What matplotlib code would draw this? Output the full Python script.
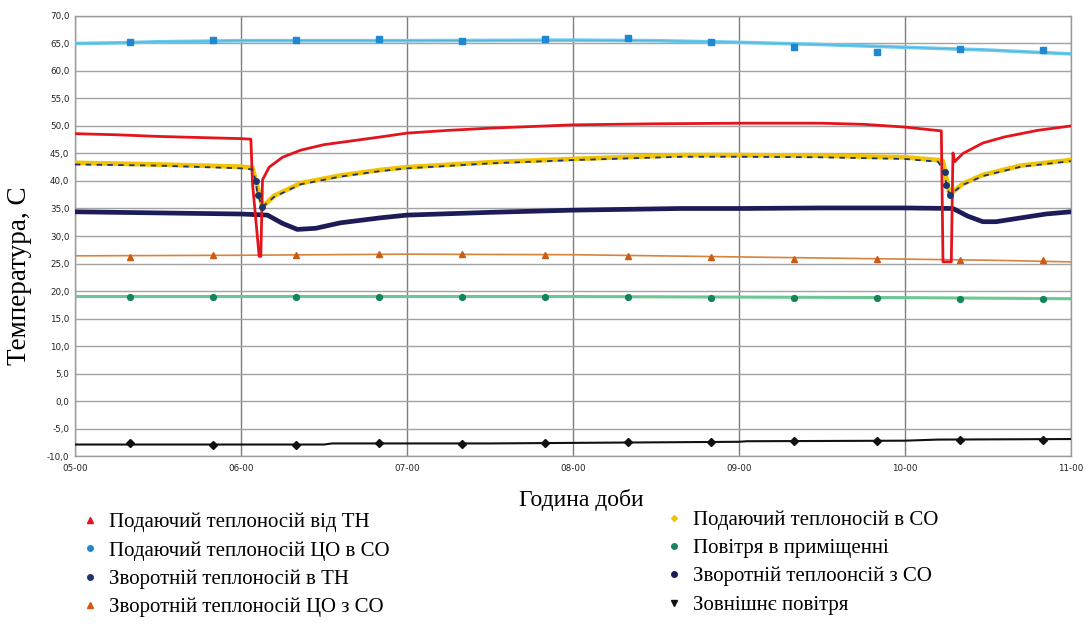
import matplotlib
matplotlib.use("Agg")
import matplotlib.pyplot as plt
from matplotlib.lines import Line2D

# ---------------- data (hours as decimal, temperatures in C) ----------------
hour_ticks = [5, 6, 7, 8, 9, 10, 11]
hour_labels = ["05-00", "06-00", "07-00", "08-00", "09-00", "10-00", "11-00"]
y_ticks = [-10, -5, 0, 5, 10, 15, 20, 25, 30, 35, 40, 45, 50, 55, 60, 65, 70]

marker_t = [5.33, 5.83, 6.33, 6.83, 7.33, 7.83, 8.33, 8.83, 9.33, 9.83, 10.33, 10.83]

# Подаючий теплоносій від ТН (red)
red_t = [5.00, 5.25, 5.50, 5.75, 6.00, 6.06, 6.07, 6.11, 6.12, 6.13, 6.17, 6.25, 6.36,
         6.50, 6.84, 7.00, 7.25, 7.50, 8.00, 8.50, 9.00, 9.50, 9.75, 10.00, 10.22,
         10.23, 10.28, 10.29, 10.30, 10.35, 10.47, 10.60, 10.80, 11.00]
red_v = [48.6, 48.4, 48.1, 47.9, 47.7, 47.6, 39.5, 26.3, 26.3, 40.2, 42.5, 44.3, 45.6,
         46.6, 48.0, 48.7, 49.2, 49.6, 50.2, 50.4, 50.5, 50.5, 50.3, 49.8, 49.1,
         25.3, 25.3, 45.1, 43.5, 45.0, 46.9, 48.0, 49.2, 50.0]

# Подаючий теплоносій ЦО в СО (light blue)
lblue_t = [5.00, 5.25, 5.50, 6.00, 7.00, 8.00, 8.50, 9.00, 9.50, 10.00, 10.50, 11.00]
lblue_v = [65.0, 65.1, 65.3, 65.5, 65.5, 65.6, 65.5, 65.2, 64.8, 64.3, 63.8, 63.1]
lblue_m = [65.2, 65.7, 65.7, 65.8, 65.5, 65.8, 66.0, 65.3, 64.4, 63.5, 64.0, 63.8]

# Подаючий теплоносій в СО (yellow)
yel_t = [5.00, 5.50, 6.00, 6.07, 6.13, 6.20, 6.36, 6.60, 6.84, 7.00, 7.50, 8.00, 8.65,
         9.00, 9.50, 10.00, 10.20, 10.23, 10.27, 10.35, 10.47, 10.70, 11.00]
yel_v = [43.3, 43.0, 42.6, 42.4, 35.3, 37.3, 39.6, 41.0, 42.0, 42.5, 43.4, 44.0, 44.7,
         44.7, 44.6, 44.3, 43.8, 43.6, 37.5, 39.5, 41.1, 42.8, 43.8]

# Зворотній теплоносій в ТН (dark blue, runs along the yellow curve)
dblue_t = [5.00, 5.50, 6.00, 6.07, 6.09, 6.10, 6.13, 6.20, 6.36, 6.60, 6.84, 7.00, 7.50,
           8.00, 8.65, 9.00, 9.50, 10.00, 10.20, 10.24, 10.25, 10.27, 10.35, 10.47,
           10.70, 11.00]
dblue_v = [43.0, 42.8, 42.3, 42.1, 40.0, 37.5, 35.3, 37.1, 39.4, 40.8, 41.8, 42.3, 43.2,
           43.8, 44.4, 44.4, 44.3, 44.0, 43.5, 41.6, 39.3, 37.5, 39.3, 40.9,
           42.6, 43.6]
dblue_dip_t = [6.09, 6.10, 6.13, 10.24, 10.25, 10.27]
dblue_dip_v = [40.0, 37.5, 35.3, 41.6, 39.3, 37.5]

# Зворотній теплоносій ЦО з СО (orange)
org_t = [5.00, 6.00, 7.00, 8.00, 8.50, 9.00, 9.50, 10.00, 10.50, 11.00]
org_v = [26.4, 26.5, 26.7, 26.6, 26.4, 26.2, 26.0, 25.8, 25.6, 25.3]
org_m = [26.2, 26.5, 26.5, 26.7, 26.7, 26.6, 26.4, 26.2, 25.9, 25.9, 25.7, 25.6]

# Повітря в приміщенні (green)
grn_t = [5.00, 7.00, 8.00, 9.00, 10.00, 11.00]
grn_v = [19.0, 19.0, 19.0, 18.9, 18.8, 18.6]
grn_m = [19.0, 19.0, 19.0, 18.9, 19.0, 19.0, 19.0, 18.8, 18.8, 18.8, 18.6, 18.6]

# Зворотній теплоонсій з СО (navy, thick)
navy_t = [5.00, 5.50, 6.00, 6.16, 6.25, 6.34, 6.45, 6.60, 6.84, 7.00, 7.50, 8.00, 8.65,
          9.00, 9.50, 10.00, 10.29, 10.38, 10.47, 10.55, 10.70, 10.85, 11.00]
navy_v = [34.4, 34.2, 34.0, 33.8, 32.3, 31.2, 31.4, 32.4, 33.3, 33.8, 34.3, 34.7, 35.0,
          35.0, 35.1, 35.1, 35.0, 33.6, 32.6, 32.6, 33.3, 34.0, 34.4]

# Зовнішнє повітря (black)
blk_t = [5.00, 6.50, 6.55, 7.50, 8.00, 9.00, 9.05, 10.00, 10.20, 11.00]
blk_v = [-7.9, -7.9, -7.7, -7.7, -7.6, -7.4, -7.3, -7.2, -7.0, -6.9]
blk_m = [-7.6, -7.9, -7.9, -7.7, -7.8, -7.6, -7.5, -7.5, -7.3, -7.3, -7.0, -7.1]

labels_left = ["Подаючий теплоносій від ТН", "Подаючий теплоносій ЦО в СО",
               "Зворотній теплоносій в ТН", "Зворотній теплоносій ЦО з СО"]
labels_right = ["Подаючий теплоносій в СО", "Повітря в приміщенні",
                "Зворотній теплоонсій з СО", "Зовнішнє повітря"]

# ---------------- colours ----------------
C_RED = "#e3141b"
C_LBLUE_LINE = "#6cccf0"
C_LBLUE_MK = "#1e88d2"
C_YEL = "#f2c300"
C_DBLUE = "#1f3570"
C_ORG_LINE = "#d8833c"
C_ORG_MK = "#cf5a12"
C_GRN_LINE = "#6cc794"
C_GRN_MK = "#14855a"
C_NAVY = "#1c1c58"
C_BLK = "#111111"

SERIF = ["Liberation Serif", "DejaVu Serif"]

fig = plt.figure(figsize=(10.86, 6.37), dpi=100)
ax = fig.add_axes([0.069, 0.284, 0.917, 0.691])

# light blue
ax.plot(lblue_t, lblue_v, color=C_LBLUE_LINE, lw=2.6, zorder=3)
ax.plot(lblue_t, lblue_v, color="#3b8fb8", lw=0.6, alpha=0.5, zorder=3)
ax.plot(marker_t, lblue_m, ls="none", marker="s", ms=4.2, color=C_LBLUE_MK, zorder=4)
# red
ax.plot(red_t, red_v, color=C_RED, lw=2.0, zorder=5)
# yellow + dark blue
ax.plot(yel_t, yel_v, color=C_YEL, lw=3.4, zorder=4)
ax.plot(dblue_t, dblue_v, color=C_DBLUE, lw=1.3, ls=(0, (3, 3)), zorder=5)
ax.plot(dblue_dip_t, dblue_dip_v, ls="none", marker="o", ms=4.0, color=C_DBLUE, zorder=6)
# navy
ax.plot(navy_t, navy_v, color=C_NAVY, lw=3.4, zorder=4)
# orange
ax.plot(org_t, org_v, color=C_ORG_LINE, lw=1.2, zorder=3)
ax.plot(marker_t, org_m, ls="none", marker="^", ms=4.5, color=C_ORG_MK, zorder=4)
# green
ax.plot(grn_t, grn_v, color=C_GRN_LINE, lw=2.2, zorder=3)
ax.plot(marker_t, grn_m, ls="none", marker="o", ms=4.2, color=C_GRN_MK, zorder=4)
# black
ax.plot(blk_t, blk_v, color=C_BLK, lw=1.5, zorder=3)
ax.plot(marker_t, blk_m, ls="none", marker="D", ms=4.0, color=C_BLK, zorder=4)

ax.set_xlim(5, 11)
ax.set_ylim(-10, 70)
ax.set_xticks(hour_ticks)
ax.set_xticklabels(hour_labels)
ax.set_yticks(y_ticks)
ax.set_yticklabels([f"{v:.1f}".replace(".", ",") for v in y_ticks])
ax.tick_params(axis="both", length=0, labelsize=6.3, colors="#222222", pad=4)
ax.tick_params(axis="x", pad=6)
ax.grid(True, axis="y", color="#a3a3a3", lw=1.0, zorder=0)
ax.grid(True, axis="x", color="#7e7e7e", lw=1.0, zorder=0)
for s in ax.spines.values():
    s.set_color("#9a9a9a")
    s.set_linewidth(1.0)

ax.set_ylabel("Температура, С", family=SERIF, fontsize=19.5)
ax.yaxis.set_label_coords(-0.043, 0.41)
ax.set_xlabel("Година доби", family=SERIF, fontsize=17)
ax.xaxis.set_label_coords(0.508, -0.075)

# ---------------- legend ----------------
def handle(color, marker, ms=4):
    return Line2D([], [], ls="none", marker=marker, ms=ms, color=color)

h_left = [handle(C_RED, "^"), handle(C_LBLUE_MK, "o"), handle(C_DBLUE, "o"),
          handle(C_ORG_MK, "^")]
h_right = [handle(C_YEL, "D", 3), handle(C_GRN_MK, "o"), handle(C_NAVY, "o"),
           handle(C_BLK, "v")]

leg_kw = dict(frameon=False, prop={"family": SERIF, "size": 15},
              handlelength=0.6, handletextpad=0.6, labelspacing=0.42,
              borderpad=0, borderaxespad=0)
leg1 = fig.legend(h_left, labels_left, loc="upper left",
                  bbox_to_anchor=(0.077, 0.195), **leg_kw)
leg2 = fig.legend(h_right, labels_right, loc="upper left",
                  bbox_to_anchor=(0.615, 0.199), **leg_kw)

fig.savefig("out.png", dpi=100, facecolor="white")
